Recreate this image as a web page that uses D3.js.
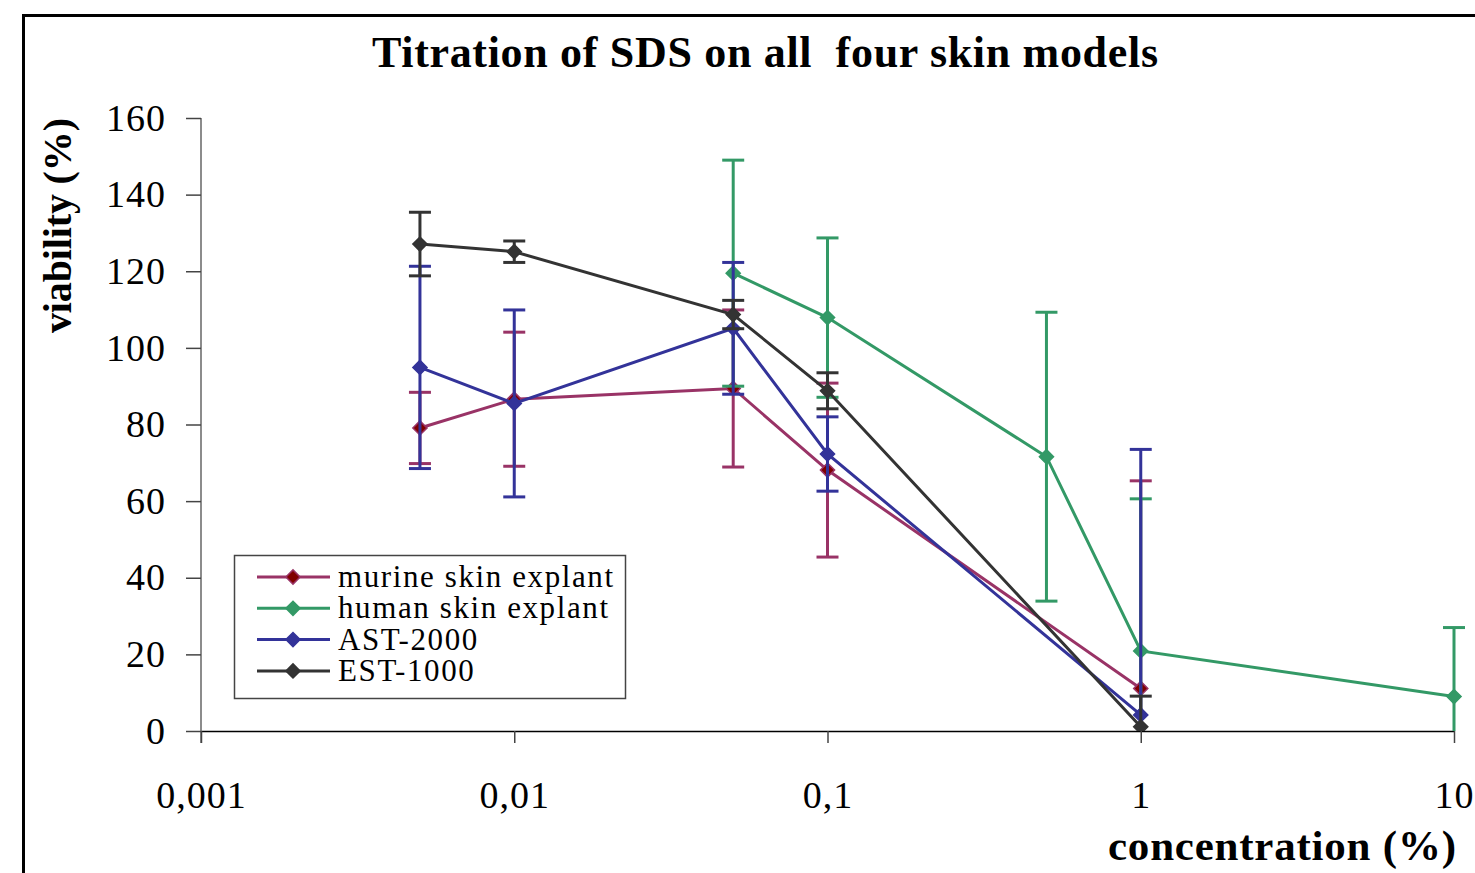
<!DOCTYPE html>
<html>
<head>
<meta charset="utf-8">
<script src="https://cdn.jsdelivr.net/npm/d3@7"></script>
<style>
  body { margin: 0; background: #fff; }
  text { font-family: "Liberation Serif", "Times New Roman", serif; }
</style>
</head>
<body>
<div id="chart"></div>
<script>
// Data
const concentrations = [0.005, 0.01, 0.05, 0.1, 0.5, 1, 10]
const seriesNames = ['murine skin explant', 'human skin explant', 'AST-2000', 'EST-1000']
const murine = [79.1, 86.6, 89.4, 68.1, null, 11.1, null]
const murineErr = [9.3, 17.5, 20.5, 22.7, null, 54.2, null]
const human = [null, null, 119.5, 107.9, 71.6, 20.9, 9.0]
const humanErr = [null, null, 29.5, 20.8, 37.7, 39.7, 18.0]
const ast = [94.9, 85.5, 105.1, 72.3, null, 4.2, null]
const astErr = [26.4, 24.4, 17.2, 9.7, null, 69.3, null]
const est = [127.1, 125.1, 108.7, 88.8, null, 1.1, null]
const estErr = [8.3, 2.8, 3.7, 4.7, null, 8.0, null]
const xTicks = [0.001, 0.01, 0.1, 1, 10]
const yTicks = [0, 20, 40, 60, 80, 100, 120, 140, 160]

const colors = ['#993366', '#339966', '#333399', '#333333']
const fills = ['#800000', '#339966', '#333399', '#333333']
const values = [murine, human, ast, est]
const errors = [murineErr, humanErr, astErr, estErr]

//Dimensions
let margin = {top: 118, right: 21, bottom: 142, left: 201},
    width = 1475 - margin.left - margin.right,
    height = 873 - margin.top - margin.bottom

const svg = d3.select('#chart')
    .append('svg')
    .attr('width', 1475)
    .attr('height', 873)

// outer frame
svg.append('rect')
    .attr('x', 23.5).attr('y', 15.5)
    .attr('width', 1500).attr('height', 900)
    .attr('fill', 'none')
    .attr('stroke', '#000')
    .attr('stroke-width', 3)

// title
svg.append('text')
    .attr('x', 372).attr('y', 67)
    .attr('textLength', 786)
    .attr('lengthAdjust', 'spacing')
    .style('font-size', '44px')
    .style('font-weight', 'bold')
    .style('white-space', 'pre')
    .text('Titration of SDS on all  four skin models')

const g = svg.append('g')
    .attr('transform', 'translate(' + margin.left + ',' + margin.top + ')')

// Scale
let x = d3.scaleLog().domain([0.001, 10]).range([0, width])
let y = d3.scaleLinear().domain([0, 160]).range([height, 0])

// Y axis
let yAxis = g.append('g')
    .attr('class', 'yAxis')
    .call(d3.axisLeft(y).tickValues(yTicks).tickSize(15).tickPadding(20).tickSizeOuter(0))
yAxis.select('.domain').attr('stroke', '#666').attr('stroke-width', 1.5)
    .attr('d', 'M0,0V' + (height + 12))
yAxis.selectAll('.tick line').attr('stroke', '#444').attr('stroke-width', 1.5)
yAxis.selectAll('.tick text').style('font-size', '38px').attr('fill', '#000')
    .attr('font-family', null)
    .style('letter-spacing', '1px')

// X axis
let xAxis = g.append('g')
    .attr('class', 'xAxis')
    .attr('transform', 'translate(0,' + height + ')')
    .call(d3.axisBottom(x).tickValues(xTicks).tickSize(12).tickSizeOuter(0)
        .tickFormat(d => String(d).replace('.', ',')))
xAxis.select('.domain').attr('stroke', '#000').attr('stroke-width', 1.5)
xAxis.selectAll('.tick line').attr('stroke', '#444').attr('stroke-width', 1.5)
xAxis.selectAll('.tick text').style('font-size', '38px').attr('fill', '#000')
    .attr('font-family', null)
    .style('letter-spacing', '1px')
    .attr('y', 50)

// axis titles
svg.append('text')
    .attr('transform', 'translate(71,333) rotate(-90)')
    .attr('textLength', 215)
    .attr('lengthAdjust', 'spacing')
    .style('font-size', '40px')
    .style('font-weight', 'bold')
    .text('viability (%)')

svg.append('text')
    .attr('x', 1108).attr('y', 860)
    .attr('textLength', 348)
    .attr('lengthAdjust', 'spacing')
    .style('font-size', '43px')
    .style('font-weight', 'bold')
    .text('concentration (%)')

// clip
g.append('defs').append('clipPath')
    .attr('id', 'plot-clip')
    .append('rect')
    .attr('x', -20).attr('y', -20)
    .attr('width', width + 40).attr('height', height + 20)

const plot = g.append('g').attr('clip-path', 'url(#plot-clip)')

const line = d3.line().x(d => x(d.c)).y(d => y(d.v))
const diamond = d3.symbol(d3.symbolSquare, 100)
const cap = 11

values.forEach(function(vals, i) {
    let pts = []
    concentrations.forEach(function(c, j) {
        if (vals[j] !== null) pts.push({c: c, v: vals[j], e: errors[i][j]})
    })
    let sg = plot.append('g')

    // error bars
    pts.forEach(function(d) {
        let hi = d.v + d.e, lo = d.v - d.e
        let cx = x(d.c)
        sg.append('line')
            .attr('x1', cx).attr('x2', cx)
            .attr('y1', y(Math.min(hi, 160))).attr('y2', y(Math.max(lo, 0)))
            .attr('stroke', colors[i]).attr('stroke-width', 3)
        if (hi <= 160) sg.append('line')
            .attr('x1', cx - cap).attr('x2', cx + cap)
            .attr('y1', y(hi)).attr('y2', y(hi))
            .attr('stroke', colors[i]).attr('stroke-width', 3)
        if (lo >= 0) sg.append('line')
            .attr('x1', cx - cap).attr('x2', cx + cap)
            .attr('y1', y(lo)).attr('y2', y(lo))
            .attr('stroke', colors[i]).attr('stroke-width', 3)
    })

    sg.append('path')
        .datum(pts)
        .attr('fill', 'none')
        .attr('stroke', colors[i])
        .attr('stroke-width', 3)
        .attr('d', line)

    sg.selectAll('.marker')
        .data(pts)
        .enter()
        .append('path')
        .attr('class', 'marker')
        .attr('d', diamond)
        .attr('transform', d => 'translate(' + x(d.c) + ',' + y(d.v) + ') rotate(45)')
        .attr('fill', fills[i])
        .attr('stroke', colors[i])
        .attr('stroke-width', 1.5)
})

// Legend
const legend = svg.append('g').attr('transform', 'translate(234,555)')
legend.append('rect')
    .attr('x', 0.5).attr('y', 0.5)
    .attr('width', 391).attr('height', 143)
    .attr('fill', '#fff')
    .attr('stroke', '#444')
    .attr('stroke-width', 1.5)

seriesNames.forEach(function(name, i) {
    let ly = 22 + i * 31.3
    let row = legend.append('g').attr('transform', 'translate(0,' + ly + ')')
    row.append('line')
        .attr('x1', 23).attr('x2', 96)
        .attr('stroke', colors[i]).attr('stroke-width', 3)
    row.append('path')
        .attr('d', diamond)
        .attr('transform', 'translate(59,0) rotate(45)')
        .attr('fill', fills[i])
        .attr('stroke', colors[i])
        .attr('stroke-width', 1.5)
    row.append('text')
        .attr('x', 104).attr('y', 10)
        .style('font-size', '31px')
        .style('letter-spacing', '1.6px')
        .text(name)
})
</script>
</body>
</html>
